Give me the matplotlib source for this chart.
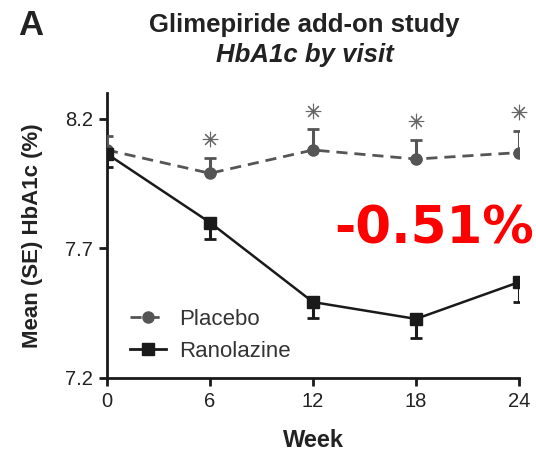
import matplotlib.pyplot as plt
from matplotlib.lines import Line2D

# HbA1c by visit, glimepiride add-on study
weeks = [0, 6, 12, 18, 24]
placebo_mean = [8.08, 7.99, 8.08, 8.045, 8.07]
placebo_se = [0.055, 0.06, 0.08, 0.075, 0.085]
ranolazine_mean = [8.065, 7.80, 7.493, 7.428, 7.57]
ranolazine_se = [0.05, 0.065, 0.06, 0.075, 0.075]
signif_weeks = [6, 12, 18, 24]
change_label = "-0.51%"

grey = '#555555'
dark = '#1a1a1a'
placebo_ls = (0, (4, 2.5))

fig = plt.figure(figsize=(5.36, 4.57), dpi=100)
ax = fig.add_axes([0.1996, 0.1729, 0.7687, 0.6236])

# placebo: dashed grey, upper SE only
ax.errorbar(weeks, placebo_mean, yerr=[[0] * 5, placebo_se], color=grey,
            ls=placebo_ls, lw=2, marker='o', ms=8, capsize=4.5, capthick=2,
            elinewidth=2.2, zorder=3)
# ranolazine: solid black, lower SE only
ax.errorbar(weeks, ranolazine_mean, yerr=[ranolazine_se, [0] * 5], color=dark,
            ls='-', lw=1.8, marker='s', ms=8, capsize=4.5, capthick=2,
            elinewidth=2.2, zorder=4)

# significance asterisks above placebo error bars
ast_y = [placebo_mean[weeks.index(w)] + placebo_se[weeks.index(w)] + 0.072 for w in signif_weeks]
ax.scatter(signif_weeks, ast_y, marker=(8, 2, 0), s=110, color='#666666', linewidths=0.8,
           clip_on=False, zorder=5)

ax.set_xlim(0, 24)
ax.set_ylim(7.2, 8.3)
ax.set_xticks(weeks)
ax.set_yticks([7.2, 7.7, 8.2])
ax.set_yticklabels(['7.2', '7.7', '8.2'])
for s in ['top', 'right']:
    ax.spines[s].set_visible(False)
for s in ['left', 'bottom']:
    ax.spines[s].set_linewidth(2)
    ax.spines[s].set_color(dark)
    ax.spines[s].set_clip_on(False)
ax.tick_params(length=6, width=2, colors=dark, labelsize=14.5, pad=4,
               labelcolor='#222222')
for lbl in ax.get_xticklabels() + ax.get_yticklabels():
    lbl.set_family('Liberation Sans')

ax.set_xlabel('Week', fontsize=17, fontweight='bold', family='Liberation Sans',
              color='#222222', labelpad=13)
ax.set_ylabel('Mean (SE) HbA1c (%)', fontsize=16, fontweight='bold',
              family='Liberation Sans', color='#222222', labelpad=16)

handles = [Line2D([], [], color=grey, ls=placebo_ls, lw=2, marker='o', ms=8),
           Line2D([], [], color=dark, ls='-', lw=2, marker='s', ms=8)]
leg = ax.legend(handles, ['Placebo', 'Ranolazine'], loc='lower left',
                bbox_to_anchor=(0.035, 0.025), frameon=False,
                prop={'family': 'Liberation Sans', 'size': 16}, handlelength=1.6,
                handletextpad=0.6, labelspacing=0.5, borderaxespad=0)
for t in leg.get_texts():
    t.set_color('#333333')

ax.text(0.794, 0.52, change_label, transform=ax.transAxes, color='#ff0000',
        fontsize=37, fontweight='bold', family='DejaVu Sans', ha='center', va='center')

fig.text(0.568, 0.945, 'Glimepiride add-on study', ha='center', va='center',
         fontsize=18.5, fontweight='bold', family='Liberation Sans', color='#222222')
fig.text(0.568, 0.88, 'HbA1c by visit', ha='center', va='center', fontsize=18.5,
         fontweight='bold', style='italic', family='Liberation Sans', color='#222222')
fig.text(0.057, 0.944, 'A', ha='center', va='center', fontsize=25,
         fontweight='bold', family='Liberation Sans', color='#222222')

fig.savefig('out.png', dpi=100, facecolor='white')
